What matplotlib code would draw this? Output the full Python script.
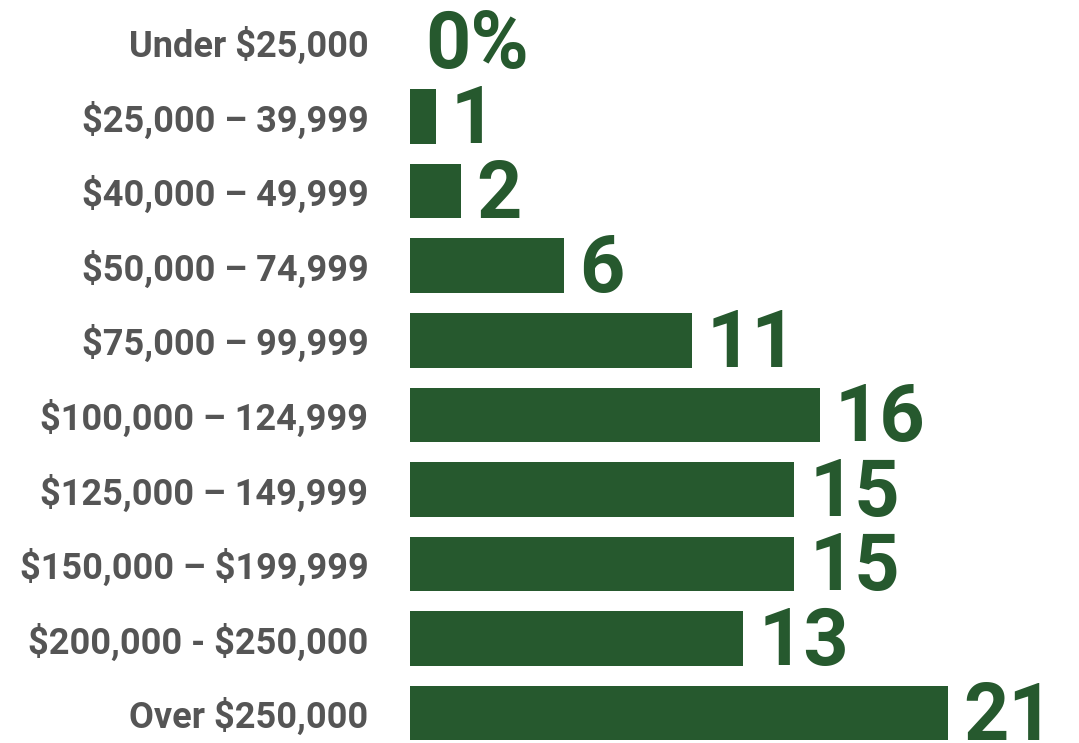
import numpy as np
import matplotlib.pyplot as plt

plt.rcParams['font.family'] = ['Roboto', 'DejaVu Sans']

# income brackets and share of respondents (%)
brackets = ['Under \\$25,000', '\\$25,000 \u2013 39,999', '\\$40,000 \u2013 49,999',
            '\\$50,000 \u2013 74,999', '\\$75,000 \u2013 99,999', '\\$100,000 \u2013 124,999',
            '\\$125,000 \u2013 149,999', '\\$150,000 \u2013 \\$199,999',
            '\\$200,000 - \\$250,000', 'Over \\$250,000']
shares = [0, 1, 2, 6, 11, 16, 15, 15, 13, 21]

green = '#26592E'
grey = '#555555'

fig = plt.figure(figsize=(10.79, 7.43), dpi=100)
ax = fig.add_axes([410 / 1079, 0, 669 / 1079, 1])

y = np.arange(len(brackets))
ax.barh(y, shares, height=0.73, color=green)

# big value labels just past the end of each bar
for yi, v in zip(y, shares):
    txt = '0%' if v == 0 else str(v)
    x0 = 0.6 if v == 0 else v + 0.6
    ax.text(x0, yi + 0.355, txt, color=green, fontsize=57, fontweight='bold',
            ha='left', va='baseline')

ax.set_xlim(0, 669 / 25.6)
ax.set_ylim(9.40, -0.563)
ax.set_yticks(y)
ax.set_yticklabels(brackets, fontsize=26, fontweight='semibold', color=grey)
ax.tick_params(axis='y', length=0, pad=30)
ax.set_xticks([])
for s in ax.spines.values():
    s.set_visible(False)

fig.savefig('out.png', dpi=100)
